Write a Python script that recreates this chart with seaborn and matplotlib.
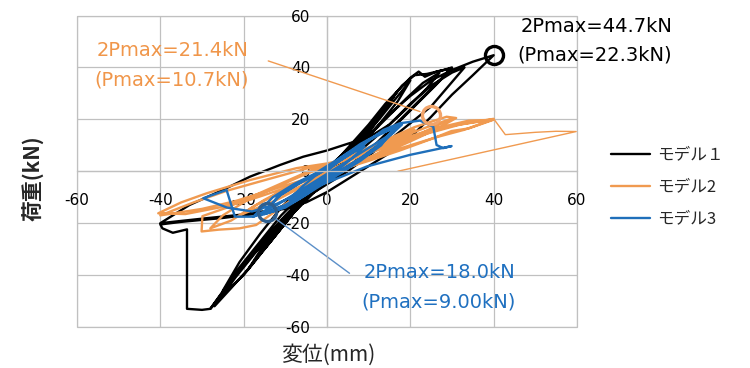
import numpy as np
import pandas as pd
import matplotlib
matplotlib.use("Agg")
import matplotlib.pyplot as plt
from matplotlib.patches import Rectangle
import seaborn as sns

# --- data (displacement mm, load kN) ---
m1_x = [0, 3, 6, 9, 6, 3, 0, -3, -6, -9, -6, -3, 0,
        4, 8, 12, 15, 17, 14, 10, 6, 2, 0, -4, -8, -12, -15, -12, -8, -4, 0,
        5, 10, 14, 16, 13, 9, 5, 1, -3, -7, -11, -14, -11, -7, -3, 0,
        5, 10, 14, 17, 20, 22, 23.5, 26.3, 30, 26, 21, 16, 11, 6, 2, -2, -7, -12, -16, -20, -24, -28,
        -24, -20, -15, -10, -5, 0,
        5, 10, 15, 18, 21, 24, 28, 30, 27, 22, 17, 12, 7, 2, -3, -8, -13, -18, -23, -27,
        -22, -17, -12, -7, -2, 2,
        7, 12, 16, 19, 20, 17, 12, 7, 2, -3, -9, -14, -19, -15, -10, -5, 0,
        4, 9, 14, 19, 23, 27, 24, 19, 13, 8, 3, -1, -6, -11, -16, -21, -25, -21, -16, -11, -6, -1, 1,
        5, 10, 15, 20, 25, 30, 35, 40, 35, 30, 25, 20, 15, 10, 5, 0, -5, -10, -16, -21, -29, -40,
        -33, -25, -18.5, -11.3, -5.7, 0, 5, 10, 15, 20, 25, 30, 33,
        25, 15, 5, -5, -15, -25, -35, -40, -39.5, -37, -33.6, -33.6, -30, -28,
        -22, -15, -8, -2, 2]
m1_y = [0, 4, 8, 13, 7, 2, -2, -6, -11, -16, -9, -4, 1,
        7, 13, 21, 27, 31, 24, 15, 7, 1, -3, -9, -16, -24, -30, -22, -14, -7, 0,
        8, 16, 25, 29, 22, 13, 5, -1, -7, -14, -22, -28, -20, -12, -5, 0,
        9, 18, 26, 31, 36, 38.4, 36.4, 38.4, 39.7, 33, 25, 17, 9, 3, -2, -6, -14, -24, -32, -40, -46, -53,
        -44, -36, -26, -17, -9, -2,
        8, 17, 27, 33, 37, 37.5, 39, 40, 35, 27, 19, 11, 4, -2, -8, -16, -26, -36, -45, -52,
        -41, -31, -21, -12, -4, 2,
        10, 19, 27, 33, 35, 27, 17, 8, 0, -7, -17, -27, -38, -28, -18, -9, -1,
        5, 12, 20, 28, 34, 38, 32, 24, 15, 8, 2, -3, -9, -17, -27, -37, -46, -35, -24, -14, -6, 0, 2,
        6, 14, 22, 29, 35, 39, 42.2, 44.7, 37, 29.5, 21, 13, 7, 2, -3, -8, -12, -14.5, -15.6, -16.8, -18.1, -20,
        -13, -7.2, -2.1, 2.4, 5.6, 8, 10.6, 13, 18, 26, 33, 38, 40,
        25, 12, 0, -10, -16, -18, -19.5, -20.5, -22, -23.7, -22.4, -53, -53.4, -53,
        -40, -27, -15, -6, 0]

m2_x = [0, 4, 8, 11, 7, 3, 0, -4, -8, -11, -7, -3, 0,
        6, 12, 18, 21, 16, 10, 4, 0, -6, -12, -18, -21, -15, -8, -2, 0,
        7, 14, 21, 28.7, 31, 26, 20, 13, 6, 0, -6, -12, -17, -21, -26, -30.1, -29.9, -24, -17, -10, -3, 3,
        8, 16, 24, 30, 25, 18, 11, 4, -3, -10, -17, -23, -28, -25, -19, -12, -5, 2,
        10, 18, 26, 34, 39.9, 34, 29.9, 25.5, 17.5, 10, 3, -4, -11, -18.5, -26, -34, -40.5,
        -35, -28.9, -18.5, -7.3, 0, 8, 16, 24, 32, 39.9,
        33, 26, 18, 10, 2, -6, -14, -22, -30, -40, -32, -24, -14, -5, 3,
        10, 20, 30, 40]
m2_y = [0, 3, 6, 8, 4, 1, -1, -4, -7, -9, -5, -2, 1,
        6, 10, 14, 16, 10, 5, 1, -2, -6, -11, -15, -17, -11, -5, -1, 1,
        7, 12, 17, 21, 20.5, 16, 11.5, 6.5, 2, -2, -8, -15, -20.7, -22, -22.5, -23.2, -17.3, -14, -9, -4, 1, 4,
        7, 12, 17, 20.3, 16.5, 11, 6, 2, -2, -7, -13, -19, -22, -17, -11, -6, -1, 3,
        8, 12.5, 16.5, 19.5, 19.8, 16.5, 15.5, 12.7, 8, 4, 0.5, -3, -7, -11, -14, -16.5, -16.2,
        -12, -8.5, -3.4, 1.2, 3, 6, 10, 14.5, 18, 20,
        16, 13, 9, 5, 1, -3.5, -7.5, -11.5, -14.5, -17, -12, -7.5, -3, 1, 3.5,
        7.5, 13, 17.5, 20.2]
# tail of model 2 after its last peak (drawn thinner)
m2_tail_x = [40, 42.8, 50, 55, 59.8, 17]
m2_tail_y = [20.2, 14.1, 15, 15.4, 15.3, 0]

m3_x = [0, 3, 6, 9, 6, 3, 0, -3, -6, -9, -6, -3, 0,
        4, 8, 12, 17, 13, 8, 3, 0, -5, -10, -14, -17.7, -13, -8, -3, 0,
        5, 10, 15, 18, 14, 9, 4, 0, -5, -10, -15, -12, -7, -2, 3,
        8, 12, 16, 13, 8, 3, -2, -7, -12, -16, -11, -6, -1, 0,
        6, 13.5, 17.5, 22.3, 25.5, 26.3, 27.9, 29.9, 19.9, 9.5, 1.5, -6, -12, -18, -24, -29.7, -24.1, -22.1,
        -17.7, -12, -6, 0, 6, 12, 16]
m3_y = [0, 4, 7, 9.5, 5, 1, -2, -5, -8, -11, -6, -2, 1,
        6, 10.5, 14, 17.5, 11, 5, 0, -3, -8, -13, -15.5, -17.5, -10, -5, -1, 2,
        7, 12, 16, 18, 12, 6, 1, -3, -9, -14, -16.5, -10, -5, -0.5, 4,
        10, 14, 16.5, 10, 4, -1, -6, -11, -15, -17, -9, -4, 0, 1,
        7, 15.9, 18.5, 19.5, 17.2, 10.1, 8.9, 9.7, 6.3, 1.8, -3.4, -8, -12.5, -15.5, -14, -10.4, -7.2, -17.5,
        -17.5, -13, -7, -1, 5, 11, 15]

models = ["モデル１", "モデル2", "モデル3"]
colors = ["#000000", "#F09A50", "#1F6FBA"]

# 2Pmax points (circled) and leader lines
peak_x = [40, 24.9, -14.3]
peak_y = [44.7, 21.7, -15.6]
peak_colors = ["#000000", "#F2A46A", "#2F5F8F"]
lead2_x = [-14.1, 22.3]
lead2_y = [42.5, 23.0]
lead3_x = [-13.0, 5.4]
lead3_y = [-17.5, -39.3]

notes = [
    ("2Pmax=44.7kN", "(Pmax=22.3kN)", "#000000", (521, 27), (517, 55)),
    ("2Pmax=21.4kN", "(Pmax=10.7kN)", "#F0964A", (97, 50), (94, 80)),
    ("2Pmax=18.0kN", "(Pmax=9.00kN)", "#1F70C0", (364, 272), (361, 302)),
]

df = pd.concat([
    pd.DataFrame({"x": m1_x, "y": m1_y, "model": models[0]}),
    pd.DataFrame({"x": m2_x, "y": m2_y, "model": models[1]}),
    pd.DataFrame({"x": m3_x, "y": m3_y, "model": models[2]}),
], ignore_index=True)

sns.set_style("white")
plt.rcParams["font.family"] = ["DejaVu Sans", "Noto Sans CJK JP"]
plt.rcParams["axes.unicode_minus"] = False
cjk = ["Noto Sans CJK JP", "DejaVu Sans"]

W, H = 750, 368
fig = plt.figure(figsize=(7.5, 3.68), dpi=100)
ax = fig.add_axes([77 / W, 1 - 327 / H, 500 / W, 311.5 / H])

sns.lineplot(data=df, x="x", y="y", hue="model", hue_order=models,
             palette=colors, sort=False, estimator=None, lw=1.7, ax=ax)
sns.lineplot(x=m2_tail_x, y=m2_tail_y, sort=False, estimator=None,
             color=colors[1], lw=1.0, ax=ax, legend=False)

# leader lines and circles
ax.plot(lead2_x, lead2_y, color="#F09A50", lw=1.0)
ax.plot(lead3_x, lead3_y, color="#5B8FC8", lw=1.0)
for px, py, pc in zip(peak_x, peak_y, peak_colors):
    ax.plot(px, py, "o", ms=13, mfc="none", mec=pc, mew=2.4)

ax.set_xlim(-60, 60)
ax.set_ylim(-60, 60)
ax.set_xticks(np.arange(-60, 61, 20))
ax.set_yticks(np.arange(-60, 61, 20))
ax.grid(True, color="#C0C0C0", lw=0.9)
ax.set_axisbelow(True)
for s in ["top", "right"]:
    ax.spines[s].set_visible(False)
ax.spines["bottom"].set_position(("data", 0))
ax.spines["left"].set_position(("data", 0))
for s in ["bottom", "left"]:
    ax.spines[s].set_color("#C0C0C0")
    ax.spines[s].set_linewidth(0.9)
ax.add_patch(Rectangle((0, 0), 1, 1, transform=ax.transAxes, fill=False,
                       ec="#C0C0C0", lw=0.9, clip_on=False, zorder=0.5))
ax.tick_params(axis="x", length=0, pad=16, labelsize=11, colors="#000000")
ax.tick_params(axis="y", length=0, pad=12, labelsize=11, colors="#000000")
ax.set_xlabel("")
ax.set_ylabel("")

fig.text(328 / W, 1 - 355 / H, "変位(mm)", family=cjk, fontsize=15,
         ha="center", va="center")
fig.text(33 / W, 1 - 178 / H, "荷重(kN)", family=cjk, fontsize=15,
         fontweight="bold", rotation=90, ha="center", va="center")

for l1, l2, c, p1, p2 in notes:
    fig.text(p1[0] / W, 1 - p1[1] / H, l1, color=c, fontsize=14, va="center", ha="left")
    fig.text(p2[0] / W, 1 - p2[1] / H, l2, color=c, fontsize=14, va="center", ha="left")

handles, labels = ax.get_legend_handles_labels()
if ax.get_legend() is not None:
    ax.get_legend().remove()
fig.legend(handles[:3], labels[:3], loc="center left",
           bbox_to_anchor=(611 / W, 1 - 187 / H), frameon=False,
           prop={"family": cjk, "size": 12}, handlelength=2.35,
           handletextpad=0.4, labelspacing=0.9, borderpad=0, borderaxespad=0)

fig.savefig("out.png", dpi=100)
